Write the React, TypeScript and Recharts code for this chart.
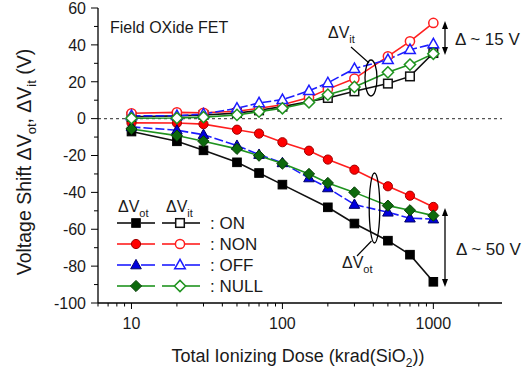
import React from "react";
import { LineChart, Line, XAxis, YAxis, ReferenceLine } from "recharts";

// ---------- data ----------
const doses = [10, 20, 30, 50, 70, 100, 150, 200, 300, 500, 700, 1000];
const onDoses = [10, 20, 30, 50, 70, 100, 200, 300, 500, 700, 1000];

// Delta V_ot (filled symbols)
const onOt = [-7, -12.3, -17.2, -23.7, -29.5, -35.8, -48.1, -56.9, -66.2, -73.8, -88.5];
const nonOt = [-2.3, -2.4, -3, -6, -8.1, -12.8, -17.4, -22.2, -27.7, -36.7, -41.8, -47.9];
const offOt = [-4.5, -6.3, -8.7, -14.6, -19.5, -24, -32.2, -37.6, -46.6, -50.8, -54, -54.5];
const nullOt = [-5.6, -9.2, -12.3, -16.4, -20.1, -24.4, -30, -34.9, -40, -47.2, -49.7, -52.6];

// Delta V_it (open symbols)
const onIt = [1, 1.5, 2, 3, 4.5, 6.5, 11.2, 14.8, 19, 22.9, 35.6];
const nonIt = [2.9, 3.4, 3.2, 4, 5.6, 7.5, 11.5, 16, 21.7, 33.8, 41.9, 51.9];
const offIt = [1.6, 1.6, 2.5, 5.6, 8.5, 10.3, 15.1, 19.4, 27.1, 32, 37.4, 40.5];
const nullIt = [0.2, 0.3, 0.8, 2, 3.8, 5.6, 8.8, 13, 17.2, 25.1, 29.3, 35.2];

const modes = ["ON", "NON", "OFF", "NULL"];
const xMajor = [10, 100, 1000];
const xTicks = [6, 7, 8, 9, 10, 20, 30, 40, 50, 60, 70, 80, 90, 100, 200, 300, 400, 500, 600, 700, 800, 900, 1000, 2000];
const yTicks = [-100, -90, -80, -70, -60, -50, -40, -30, -20, -10, 0, 10, 20, 30, 40, 50, 60];

// ---------- styles ----------
const FONT = "'Liberation Sans', Arial, sans-serif";
const TXT = "#1a1a1a";
type Shape = "square" | "circle" | "triangle" | "diamond";
const styles: { color: string; fill: string; edge: string; shape: Shape; dash?: string }[] = [
  { color: "#111111", fill: "#000000", edge: "#000000", shape: "square" },
  { color: "#ff1f1f", fill: "#ff0000", edge: "#a00000", shape: "circle" },
  { color: "#1c1cff", fill: "#0000dd", edge: "#00006a", shape: "triangle", dash: "9 3" },
  { color: "#1f931f", fill: "#0d6a0d", edge: "#053d05", shape: "diamond" },
];

const pts = (xs: number[], ys: number[]) => xs.map((x, i) => ({ x, y: ys[i] }));

function Marker({ cx, cy, shape, filled, color, fill, edge }: any) {
  const f = filled ? fill : "#ffffff";
  const s = filled ? edge : color;
  const sw = filled ? 1 : 1.5;
  if (shape === "square") {
    const h = 4.3;
    return <rect x={cx - h} y={cy - h} width={2 * h} height={2 * h} fill={f} stroke={s} strokeWidth={sw} />;
  }
  if (shape === "circle") return <circle cx={cx} cy={cy} r={4.6} fill={f} stroke={s} strokeWidth={sw} />;
  if (shape === "triangle")
    return (
      <polygon
        points={`${cx},${cy - 5.6} ${cx - 5.3},${cy + 3.8} ${cx + 5.3},${cy + 3.8}`}
        fill={f}
        stroke={s}
        strokeWidth={sw}
      />
    );
  const d = 5.6;
  return (
    <polygon points={`${cx},${cy - d} ${cx + d},${cy} ${cx},${cy + d} ${cx - d},${cy}`} fill={f} stroke={s} strokeWidth={sw} />
  );
}

const dotFn = (idx: number, filled: boolean) => (p: any) => {
  if (p.cx == null || p.cy == null) return <g key={`e${p.index}`} />;
  const st = styles[idx];
  return (
    <Marker key={`m${idx}${filled ? "f" : "o"}${p.index}`} cx={p.cx} cy={p.cy} shape={st.shape} filled={filled} color={st.color} fill={st.fill} edge={st.edge} />
  );
};

const YTick = (props: any) => {
  const { x, y, payload } = props;
  const v = payload.value;
  const major = v % 20 === 0;
  return (
    <g>
      <line x1={x - (major ? 7 : 4)} x2={x} y1={y} y2={y} stroke="#000" strokeWidth={1} />
      {major && (
        <text x={x - 12} y={y} dy="0.36em" textAnchor="end" fontSize={16} fontFamily={FONT} fill={TXT}>
          {v}
        </text>
      )}
    </g>
  );
};

const XTick = (props: any) => {
  const { x, y, payload } = props;
  const v = payload.value;
  const major = xMajor.includes(v);
  return (
    <g>
      <line x1={x} x2={x} y1={y} y2={y + (major ? 6 : 3.5)} stroke="#000" strokeWidth={1} />
      {major && (
        <text x={x} y={y + 26} textAnchor="middle" fontSize={16} fontFamily={FONT} fill={TXT}>
          {v}
        </text>
      )}
    </g>
  );
};

const series = [
  { xs: onDoses, ot: onOt, it: onIt },
  { xs: doses, ot: nonOt, it: nonIt },
  { xs: doses, ot: offOt, it: offIt },
  { xs: doses, ot: nullOt, it: nullIt },
];

function VArrow({ x, y1, y2 }: { x: number; y1: number; y2: number }) {
  return (
    <g>
      <line x1={x} x2={x} y1={y1 + 6} y2={y2 - 6} stroke="#000" strokeWidth={1.3} />
      <polygon points={`${x},${y1} ${x - 3},${y1 + 8} ${x + 3},${y1 + 8}`} fill="#000" />
      <polygon points={`${x},${y2} ${x - 3},${y2 - 8} ${x + 3},${y2 - 8}`} fill="#000" />
    </g>
  );
}

function Overlay() {
  const legendRows = [223, 244, 265, 286];
  return (
    <svg width={529} height={371} style={{ position: "absolute", left: 0, top: 0, pointerEvents: "none" }} fontFamily={FONT}>
      {/* axis titles */}
      <text transform="translate(31,162) rotate(-90)" textAnchor="middle" fontSize={19.5} fill={TXT}>
        Voltage Shift ΔV
        <tspan dy={5} fontSize={13}>ot</tspan>
        <tspan dy={-5}>, ΔV</tspan>
        <tspan dy={5} fontSize={13}>it</tspan>
        <tspan dy={-5}> (V)</tspan>
      </text>
      <text x={298} y={362} textAnchor="middle" fontSize={18} fill={TXT}>
        Total Ionizing Dose (krad(SiO
        <tspan dy={5} fontSize={12}>2</tspan>
        <tspan dy={-5}>))</tspan>
      </text>

      <text x={110} y={33} fontSize={16} fill={TXT}>Field OXide FET</text>

      {/* ΔVit annotation */}
      <text x={328} y={38} fontSize={16} fill={TXT}>
        ΔV<tspan dy={5} fontSize={11}>it</tspan>
      </text>
      <line x1={351} y1={47} x2={369} y2={63} stroke="#000" strokeWidth={1.2} />
      <ellipse cx={371} cy={78} rx={6} ry={18} fill="none" stroke="#000" strokeWidth={1.3} />

      {/* ΔVot annotation */}
      <ellipse cx={374.5} cy={208} rx={5.3} ry={35} fill="none" stroke="#000" strokeWidth={1.3} />
      <line x1={371.5} y1={241} x2={357} y2={256} stroke="#000" strokeWidth={1.2} />
      <text x={342} y={268} fontSize={16} fill={TXT}>
        ΔV<tspan dy={5} fontSize={11}>ot</tspan>
      </text>

      {/* Δ ranges */}
      <VArrow x={445} y1={21} y2={55} />
      <rect x={452} y={17} width={70} height={33} fill="#fff" />
      <text x={455} y={45} fontSize={17} fill={TXT}>Δ ~ 15 V</text>
      <VArrow x={445} y1={208} y2={287} />
      <rect x={452} y={233} width={70} height={29} fill="#fff" />
      <text x={456} y={255} fontSize={17} fill={TXT}>Δ ~ 50 V</text>

      {/* legend */}
      <text x={118} y={212} fontSize={16} fill={TXT}>
        ΔV<tspan dy={5} fontSize={11}>ot</tspan>
      </text>
      <text x={166} y={212} fontSize={16} fill={TXT}>
        ΔV<tspan dy={5} fontSize={11}>it</tspan>
      </text>
      {modes.map((m, i) => {
        const st = styles[i];
        const y = legendRows[i];
        return (
          <g key={m}>
            <line x1={117} x2={131} y1={y} y2={y} stroke={st.color} strokeWidth={1.6} />
            <line x1={141} x2={155} y1={y} y2={y} stroke={st.color} strokeWidth={1.6} />
            <Marker cx={136} cy={y} shape={st.shape} filled={true} color={st.color} fill={st.fill} edge={st.edge} />
            <line x1={162} x2={175} y1={y} y2={y} stroke={st.color} strokeWidth={1.6} />
            <line x1={185} x2={200} y1={y} y2={y} stroke={st.color} strokeWidth={1.6} />
            <Marker cx={180} cy={y} shape={st.shape} filled={false} color={st.color} fill={st.fill} edge={st.edge} />
            <text x={210} y={y + 6} fontSize={17} fill={TXT}>: {m}</text>
          </g>
        );
      })}
    </svg>
  );
}

export default function App() {
  return (
    <div style={{ position: "absolute", left: 0, top: 0, width: 529, height: 371, background: "#fff" }}>
      <LineChart width={529} height={371} margin={{ top: 8, right: 27, left: 0, bottom: 0 }}>
        <XAxis
          dataKey="x"
          type="number"
          scale="log"
          domain={[6, 2850]}
          allowDataOverflow
          ticks={xTicks}
          interval={0}
          tick={<XTick />}
          tickLine={false}
          tickSize={0}
          tickMargin={0}
          height={68}
          axisLine={{ stroke: "#000", strokeWidth: 1.3 }}
        />
        <XAxis
          xAxisId="top"
          orientation="top"
          type="number"
          scale="log"
          domain={[6, 2850]}
          allowDataOverflow
          height={0}
          tick={false}
          tickLine={false}
          axisLine={{ stroke: "#000", strokeWidth: 1.3 }}
        />
        <YAxis
          type="number"
          domain={[-100, 60]}
          allowDataOverflow
          ticks={yTicks}
          interval={0}
          tick={<YTick />}
          tickLine={false}
          tickSize={0}
          tickMargin={0}
          width={98}
          axisLine={{ stroke: "#000", strokeWidth: 1.3 }}
        />
        <YAxis
          yAxisId="right"
          orientation="right"
          type="number"
          domain={[-100, 60]}
          width={0}
          tick={false}
          tickLine={false}
          axisLine={{ stroke: "#000", strokeWidth: 1.3 }}
        />
        <ReferenceLine y={0} stroke="#555" strokeDasharray="3 3" strokeWidth={1.2} />
        {series.map((s, i) => (
          <Line
            key={`ot${i}`}
            data={pts(s.xs, s.ot)}
            dataKey="y"
            type="linear"
            stroke={styles[i].color}
            strokeWidth={1.6}
            strokeDasharray={styles[i].dash}
            dot={dotFn(i, true)}
            activeDot={false}
            isAnimationActive={false}
          />
        ))}
        {series.map((s, i) => (
          <Line
            key={`it${i}`}
            data={pts(s.xs, s.it)}
            dataKey="y"
            type="linear"
            stroke={styles[i].color}
            strokeWidth={1.6}
            strokeDasharray={styles[i].dash}
            dot={dotFn(i, false)}
            activeDot={false}
            isAnimationActive={false}
          />
        ))}
      </LineChart>
      <Overlay />
    </div>
  );
}
